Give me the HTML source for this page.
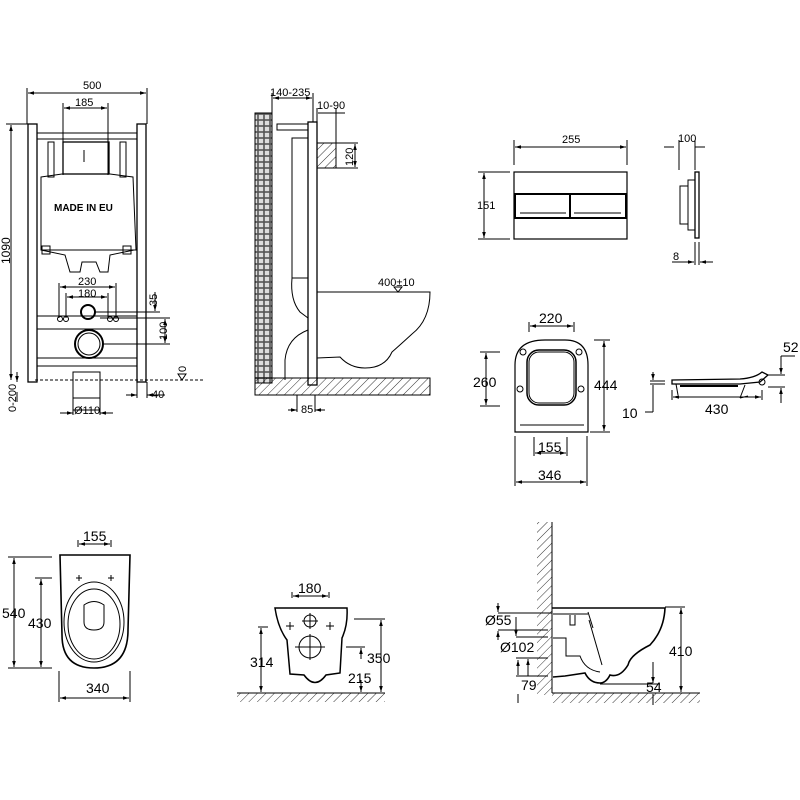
<!DOCTYPE html>
<html><head><meta charset="utf-8"><style>
html,body{margin:0;padding:0;background:#fff}
svg{display:block}
text{font-family:"Liberation Sans",sans-serif;fill:#000}
</style></head><body>
<svg width="800" height="800" viewBox="0 0 800 800" xmlns="http://www.w3.org/2000/svg">
<defs>
<pattern id="h" width="6" height="6" patternUnits="userSpaceOnUse" patternTransform="rotate(45)"><line x1="0" y1="0" x2="0" y2="6" stroke="#000" stroke-width="0.8"/></pattern>
<pattern id="b" width="6" height="6" patternUnits="userSpaceOnUse"><rect x="0" y="0" width="6" height="6" fill="#555"/><rect x="0.8" y="0.8" width="4.4" height="4.4" fill="#ddd"/></pattern>
<marker id="a" viewBox="0 0 10 10" refX="10" refY="5" markerWidth="6" markerHeight="6" orient="auto-start-reverse"><path d="M0,2 L10,5 L0,8z" fill="#000"/></marker>
</defs>
<g stroke="#000" fill="none" stroke-width="1">

<!-- FRAME VIEW -->
<line x1="27" y1="88" x2="27" y2="124"/><line x1="147" y1="88" x2="147" y2="124"/>
<line x1="28" y1="93" x2="146" y2="93" marker-start="url(#a)" marker-end="url(#a)"/>
<line x1="63" y1="103" x2="63" y2="175"/><line x1="108" y1="103" x2="108" y2="175"/>
<line x1="64" y1="108" x2="107" y2="108" marker-start="url(#a)" marker-end="url(#a)"/>
<line x1="6" y1="124" x2="28" y2="124"/>
<line x1="11" y1="125" x2="11" y2="380" marker-start="url(#a)" marker-end="url(#a)"/>
<rect x="28" y="124" width="9" height="258" stroke-width="1.3"/>
<rect x="137" y="124" width="9" height="258" stroke-width="1.3"/>
<rect x="37" y="133" width="100" height="6"/>
<rect x="63" y="142" width="46" height="32" stroke-width="1.3"/>
<line x1="84" y1="150" x2="84" y2="162"/>
<path d="M48 142 h6 v35 h-6z M120 142 h6 v35 h-6z"/>
<path d="M41 177 L62 174 L110 174 L133 177 L136 250 L41 250 Z"/>
<path d="M41 250 L65 255 L70 272 L80 272 L82 262 L96 262 L100 272 L108 272 L110 255 L134 250"/>
<rect x="42" y="246" width="8" height="8"/><rect x="123" y="246" width="8" height="8"/>
<line x1="59" y1="283" x2="59" y2="318"/><line x1="116" y1="283" x2="116" y2="318"/>
<line x1="60" y1="287" x2="115" y2="287" marker-start="url(#a)" marker-end="url(#a)"/>
<line x1="66" y1="293" x2="66" y2="318"/><line x1="108" y1="293" x2="108" y2="318"/>
<line x1="67" y1="297" x2="107" y2="297" marker-start="url(#a)" marker-end="url(#a)"/>
<circle cx="88" cy="312" r="7" stroke-width="2"/>
<circle cx="89" cy="344" r="14" stroke-width="2"/><circle cx="89" cy="344" r="11"/>
<line x1="37" y1="316" x2="137" y2="316"/><line x1="37" y1="329" x2="137" y2="329"/>
<circle cx="60" cy="319" r="2.5"/><circle cx="66" cy="319" r="2.5"/><circle cx="110" cy="319" r="2.5"/><circle cx="116" cy="319" r="2.5"/>
<line x1="37" y1="358" x2="137" y2="358"/><line x1="37" y1="366" x2="137" y2="366"/>
<line x1="95" y1="312" x2="160" y2="312"/><line x1="100" y1="318" x2="170" y2="318"/><line x1="103" y1="344" x2="170" y2="344"/>
<line x1="155" y1="292" x2="155" y2="311" marker-end="url(#a)"/>
<line x1="165" y1="319" x2="165" y2="343" marker-start="url(#a)" marker-end="url(#a)"/>
<line x1="35" y1="380" x2="205" y2="380" stroke-dasharray="3,2"/>
<path d="M178 374 l4 6 l4 -6z"/>
<rect x="73" y="372" width="27" height="38"/>
<line x1="73" y1="398" x2="100" y2="398"/>
<line x1="73" y1="405" x2="73" y2="415"/><line x1="100" y1="405" x2="100" y2="415"/>
<line x1="60" y1="413" x2="73" y2="413" marker-end="url(#a)"/><line x1="113" y1="413" x2="100" y2="413" marker-end="url(#a)"/>
<line x1="137" y1="382" x2="137" y2="398"/><line x1="147" y1="382" x2="147" y2="398"/>
<line x1="126" y1="395" x2="137" y2="395" marker-end="url(#a)"/><line x1="165" y1="395" x2="147" y2="395" marker-end="url(#a)"/>
<line x1="17" y1="372" x2="17" y2="382" marker-end="url(#a)"/>
<line x1="17" y1="402" x2="17" y2="392"/>

<!-- SIDE VIEW -->
<rect x="255" y="113" width="17" height="270" fill="url(#b)"/>
<rect x="255" y="378" width="175" height="17" fill="url(#h)"/>
<rect x="308" y="122" width="9" height="263" stroke-width="1.3"/>
<rect x="292" y="138" width="16" height="140"/>
<rect x="277" y="124" width="31" height="6"/>
<rect x="317" y="143" width="19" height="25" fill="url(#h)"/>
<line x1="272" y1="93" x2="272" y2="113"/><line x1="313" y1="93" x2="313" y2="122"/>
<line x1="273" y1="98" x2="312" y2="98" marker-start="url(#a)" marker-end="url(#a)"/>
<line x1="317" y1="108" x2="317" y2="122"/><line x1="336" y1="108" x2="336" y2="143"/>
<line x1="318" y1="113" x2="345" y2="113"/>
<line x1="336" y1="143" x2="358" y2="143"/><line x1="336" y1="168" x2="358" y2="168"/>
<line x1="355" y1="144" x2="355" y2="167" marker-start="url(#a)" marker-end="url(#a)"/>
<path d="M292 278 Q290 300 300 312 L308 318"/>
<path d="M308 330 Q287 338 285 360 L285 380"/>
<path d="M317 292 L430 292 Q430 320 412 334 Q400 345 392 352 Q385 368 365 368 Q350 368 340 357 L317 358"/>
<path d="M394 287 l4 5 l4 -5z"/>
<line x1="297" y1="395" x2="297" y2="412"/><line x1="315" y1="395" x2="315" y2="412"/>
<line x1="288" y1="410" x2="297" y2="410" marker-end="url(#a)"/><line x1="325" y1="410" x2="315" y2="410" marker-end="url(#a)"/>

<!-- FLUSH PLATE -->
<line x1="514" y1="140" x2="514" y2="165"/><line x1="627" y1="140" x2="627" y2="165"/>
<line x1="515" y1="147" x2="626" y2="147" marker-start="url(#a)" marker-end="url(#a)"/>
<line x1="478" y1="172" x2="510" y2="172"/><line x1="478" y1="239" x2="510" y2="239"/>
<line x1="484" y1="173" x2="484" y2="238" marker-start="url(#a)" marker-end="url(#a)"/>
<rect x="514" y="172" width="113" height="67" stroke-width="1.2"/>
<rect x="515" y="194" width="111" height="24" stroke-width="2"/>
<line x1="570" y1="194" x2="570" y2="218" stroke-width="2"/>
<line x1="520" y1="213" x2="566" y2="213"/><line x1="574" y1="213" x2="621" y2="213"/>
<line x1="664" y1="147" x2="674" y2="147"/><line x1="695" y1="147" x2="705" y2="147"/>
<line x1="679" y1="140" x2="679" y2="170"/><line x1="695" y1="140" x2="695" y2="170"/>
<rect x="695" y="172" width="4" height="66" stroke-width="1.3"/>
<rect x="688" y="180" width="7" height="50"/><rect x="680" y="186" width="8" height="38"/>
<line x1="695" y1="242" x2="695" y2="265"/><line x1="699" y1="242" x2="699" y2="265"/>
<line x1="672" y1="262" x2="694" y2="262" marker-end="url(#a)"/><line x1="713" y1="262" x2="700" y2="262" marker-end="url(#a)"/>

<!-- SEAT TOP -->
<line x1="529" y1="322" x2="529" y2="332"/><line x1="574" y1="322" x2="574" y2="332"/>
<line x1="530" y1="326" x2="573" y2="326" marker-start="url(#a)" marker-end="url(#a)"/>
<path d="M515 432 L515 365 Q515 340 545 340 L565 340 Q588 340 588 365 L588 432 Z" stroke-width="1.2"/>
<rect x="527" y="350" width="49" height="55" rx="12" stroke-width="1.5"/>
<rect x="529" y="352" width="45" height="51" rx="10"/>
<circle cx="523" cy="352" r="3"/><circle cx="579" cy="352" r="3"/><circle cx="520" cy="389" r="3"/><circle cx="581" cy="389" r="3"/>
<line x1="520" y1="425" x2="584" y2="425"/>
<line x1="480" y1="352" x2="500" y2="352"/><line x1="480" y1="406" x2="500" y2="406"/>
<line x1="486" y1="353" x2="486" y2="405" marker-start="url(#a)" marker-end="url(#a)"/>
<line x1="594" y1="340" x2="610" y2="340"/><line x1="590" y1="432" x2="610" y2="432"/>
<line x1="604" y1="341" x2="604" y2="431" marker-start="url(#a)" marker-end="url(#a)"/>
<line x1="534" y1="437" x2="534" y2="456"/><line x1="567" y1="437" x2="567" y2="456"/>
<line x1="535" y1="453" x2="566" y2="453" marker-start="url(#a)" marker-end="url(#a)"/>
<line x1="515" y1="436" x2="515" y2="486"/><line x1="587" y1="436" x2="587" y2="486"/>
<line x1="516" y1="482" x2="586" y2="482" marker-start="url(#a)" marker-end="url(#a)"/>

<!-- SEAT SIDE -->
<path d="M672 380 L740 379 Q755 378 762 372 L768 375 L760 382 L740 384 L672 384 Z" stroke-width="1.3"/>
<line x1="680" y1="386" x2="738" y2="386" stroke-width="2"/>
<circle cx="762" cy="382" r="3"/>
<line x1="745" y1="385" x2="740" y2="398"/><line x1="740" y1="398" x2="748" y2="396"/>
<line x1="676" y1="384" x2="678" y2="395"/>
<line x1="672" y1="390" x2="672" y2="400"/><line x1="762" y1="390" x2="762" y2="400"/>
<line x1="673" y1="397" x2="761" y2="397" marker-start="url(#a)" marker-end="url(#a)"/>
<line x1="650" y1="381" x2="665" y2="381"/><line x1="650" y1="384" x2="665" y2="384"/>
<line x1="653" y1="372" x2="653" y2="380" marker-end="url(#a)"/><line x1="653" y1="412" x2="653" y2="385"/>
<line x1="653" y1="412" x2="645" y2="412"/>
<line x1="768" y1="375" x2="785" y2="375"/><line x1="768" y1="387" x2="785" y2="387"/>
<line x1="781" y1="356" x2="795" y2="356"/>
<line x1="781" y1="356" x2="781" y2="374" marker-end="url(#a)"/><line x1="781" y1="403" x2="781" y2="388" marker-end="url(#a)"/>

<!-- BOTTOM LEFT TOP VIEW -->
<line x1="78" y1="540" x2="78" y2="547"/><line x1="111" y1="540" x2="111" y2="547"/>
<line x1="79" y1="544" x2="110" y2="544" marker-start="url(#a)" marker-end="url(#a)"/>
<path d="M60 555 L130 555 L128 630 Q128 668 94 668 Q62 668 62 635 Z" stroke-width="1.6"/>
<ellipse cx="94" cy="622" rx="30" ry="40"/><ellipse cx="94" cy="624" rx="26" ry="35"/>
<path d="M84 605 Q94 598 104 605 L104 622 Q104 630 94 630 Q84 630 84 622 Z"/>
<path d="M76 578 h6 M79 575 v6 M108 578 h6 M111 575 v6"/>
<line x1="8" y1="557" x2="52" y2="557"/><line x1="8" y1="668" x2="52" y2="668"/>
<line x1="14" y1="558" x2="14" y2="667" marker-start="url(#a)" marker-end="url(#a)"/>
<line x1="35" y1="578" x2="52" y2="578"/>
<line x1="41" y1="579" x2="41" y2="667" marker-start="url(#a)" marker-end="url(#a)"/>
<line x1="59" y1="671" x2="59" y2="702"/><line x1="130" y1="671" x2="130" y2="702"/>
<line x1="60" y1="698" x2="129" y2="698" marker-start="url(#a)" marker-end="url(#a)"/>

<!-- FRONT BOWL -->
<line x1="292" y1="592" x2="292" y2="598"/><line x1="329" y1="592" x2="329" y2="598"/>
<line x1="293" y1="596" x2="328" y2="596" marker-start="url(#a)" marker-end="url(#a)"/>
<path d="M275 608 L347 608 Q348 625 342 638 L340 673 L326 675 Q315 690 304 675 L290 674 L287 640 Q278 628 275 608 Z" stroke-width="1.5"/>
<circle cx="310" cy="621" r="6"/><path d="M302 621 h16 M310 613 v16"/>
<circle cx="310" cy="647" r="11"/><path d="M295 647 h30 M310 634 v26"/>
<path d="M286 626 h8 M290 622 v8 M326 626 h8 M330 622 v8"/>
<rect x="237" y="693" width="148" height="9" fill="url(#h)" stroke="none"/><line x1="237" y1="693" x2="385" y2="693"/>
<line x1="258" y1="627" x2="268" y2="627"/>
<line x1="261" y1="628" x2="261" y2="692" marker-start="url(#a)" marker-end="url(#a)"/>
<line x1="354" y1="619" x2="385" y2="619"/>
<line x1="381" y1="620" x2="381" y2="692" marker-start="url(#a)" marker-end="url(#a)"/>
<line x1="346" y1="647" x2="365" y2="647"/>
<line x1="361" y1="648" x2="361" y2="659" marker-start="url(#a)"/><line x1="361" y1="680" x2="361" y2="692" marker-end="url(#a)"/>

<!-- SIDE BOWL -->
<rect x="537" y="522" width="15" height="173" fill="url(#h)" stroke="none"/>
<line x1="552" y1="522" x2="552" y2="693"/>
<rect x="552" y="693" width="148" height="10" fill="url(#h)" stroke="none"/><line x1="552" y1="693" x2="700" y2="693"/>
<path d="M552 608 L665 608 Q664 630 650 645 Q630 655 628 665 Q620 678 610 675 Q606 683 600 683 Q590 683 585 673 L565 676 L553 677" stroke-width="1.6"/>
<path d="M553 614 L588 614 M575 615 v10 h-5 v-10 M588 612 L593 628"/>
<path d="M553 638 L566 638 L566 656 L580 656 Q585 670 600 672"/>
<line x1="589" y1="620" x2="602" y2="665"/>
<line x1="665" y1="607" x2="685" y2="607"/>
<line x1="681" y1="608" x2="681" y2="692" marker-start="url(#a)" marker-end="url(#a)"/>
<line x1="600" y1="684" x2="660" y2="684"/>
<line x1="653" y1="662" x2="653" y2="683" marker-end="url(#a)"/><line x1="653" y1="705" x2="653" y2="694"/>
<line x1="498" y1="613" x2="552" y2="613"/><line x1="498" y1="630" x2="548" y2="630"/>
<line x1="498" y1="603" x2="498" y2="612" marker-end="url(#a)"/><line x1="498" y1="640" x2="498" y2="631" marker-end="url(#a)"/>
<line x1="516" y1="617" x2="516" y2="636" marker-end="url(#a)"/>
<line x1="516" y1="637" x2="548" y2="637"/><line x1="516" y1="658" x2="548" y2="658"/>
<line x1="528" y1="659" x2="528" y2="676" marker-start="url(#a)"/>
<line x1="516" y1="676" x2="548" y2="676"/>
<line x1="518" y1="660" x2="518" y2="675" marker-start="url(#a)"/>
<line x1="518" y1="703" x2="518" y2="694"/>
</g>

<g font-size="12">
<text x="83" y="89" font-size="11">500</text>
<text x="75" y="106" font-size="11">185</text>
<text x="10" y="264" font-size="12" transform="rotate(-90 10 264)">1090</text>
<text x="54" y="211" font-size="10" font-weight="bold">MADE IN EU</text>
<text x="78" y="285" font-size="11">230</text>
<text x="78" y="297" font-size="11">180</text>
<text x="157" y="306" font-size="11" transform="rotate(-90 157 306)">35</text>
<text x="167" y="340" font-size="11" transform="rotate(-90 167 340)">100</text>
<text x="186" y="372" font-size="11" transform="rotate(-90 186 372)">0</text>
<text x="152" y="398" font-size="11">40</text>
<text x="16" y="412" font-size="11" transform="rotate(-90 16 412)">0-200</text>
<text x="74" y="414" font-size="11">Ø110</text>
<text x="270" y="96" font-size="11">140-235</text>
<text x="317" y="109" font-size="11">10-90</text>
<text x="353" y="166" font-size="11" transform="rotate(-90 353 166)">120</text>
<text x="378" y="286" font-size="11">400±10</text>
<text x="301" y="413" font-size="11">85</text>
<text x="562" y="143" font-size="11">255</text>
<text x="477" y="209" font-size="11">151</text>
<text x="678" y="142" font-size="11">100</text>
<text x="673" y="260" font-size="11">8</text>
<text x="539" y="323" font-size="14">220</text>
<text x="473" y="387" font-size="14">260</text>
<text x="594" y="390" font-size="14">444</text>
<text x="538" y="452" font-size="14">155</text>
<text x="538" y="480" font-size="14">346</text>
<text x="783" y="352" font-size="14">52</text>
<text x="622" y="418" font-size="14">10</text>
<text x="705" y="414" font-size="14">430</text>
<text x="83" y="541" font-size="14">155</text>
<text x="2" y="618" font-size="14">540</text>
<text x="28" y="628" font-size="14">430</text>
<text x="86" y="693" font-size="14">340</text>
<text x="298" y="593" font-size="14">180</text>
<text x="250" y="667" font-size="14">314</text>
<text x="367" y="663" font-size="14">350</text>
<text x="348" y="683" font-size="14">215</text>
<text x="485" y="625" font-size="14">Ø55</text>
<text x="500" y="652" font-size="14">Ø102</text>
<text x="521" y="690" font-size="14">79</text>
<text x="646" y="692" font-size="14">54</text>
<text x="669" y="656" font-size="14">410</text>
</g>
</svg>
</body></html>
